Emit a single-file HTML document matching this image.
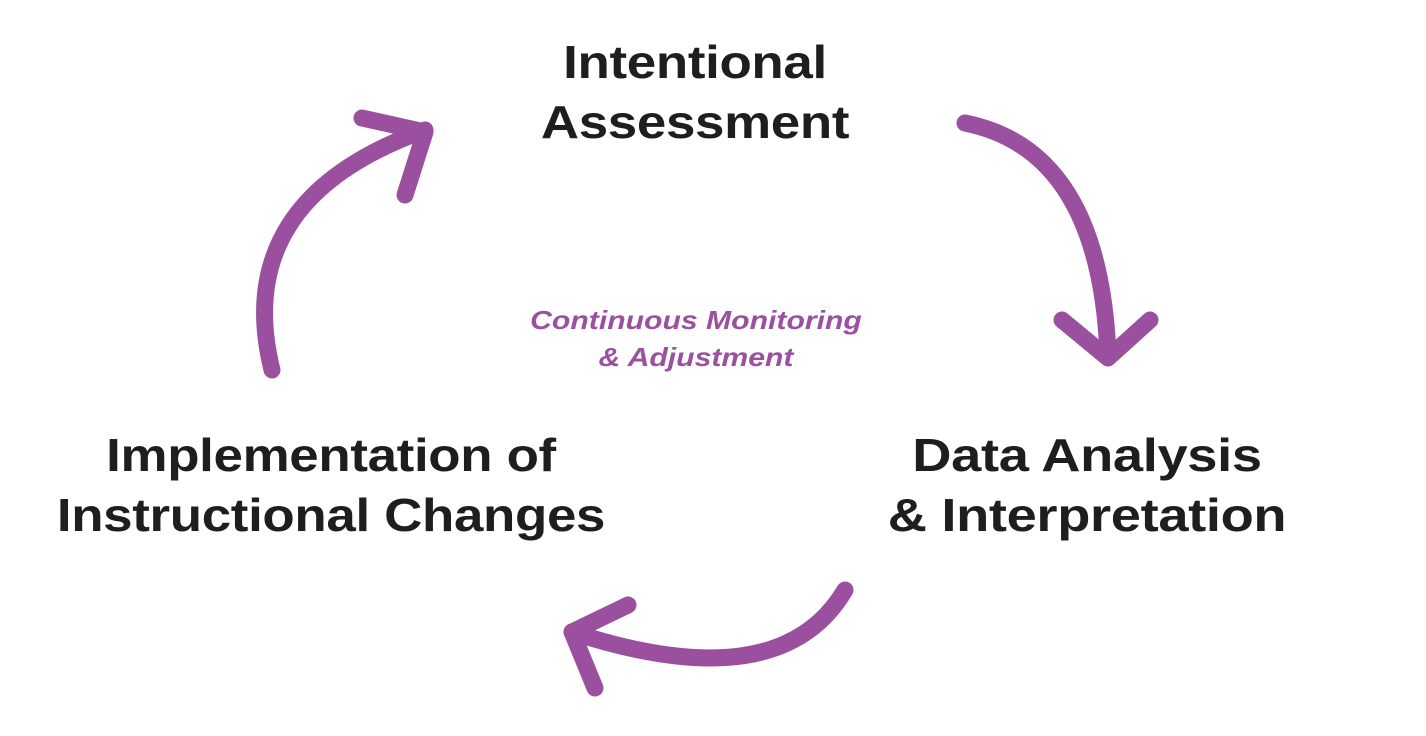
<!DOCTYPE html>
<html><head><meta charset="utf-8"><style>
html,body{margin:0;padding:0;background:#fff;}
body{width:1426px;height:736px;position:relative;overflow:hidden;font-family:"Liberation Sans",sans-serif;}
.t{position:absolute;font-weight:bold;color:#1e1e1e;font-size:46px;line-height:60px;text-align:center;white-space:nowrap;letter-spacing:-0.3px;transform:scaleX(1.15);transform-origin:center;}
.c{position:absolute;font-weight:bold;font-style:italic;color:#9b50a0;font-size:26px;line-height:37px;text-align:center;white-space:nowrap;transform:scaleX(1.16);transform-origin:center;}
svg{position:absolute;left:0;top:0;}
</style></head><body>
<svg width="1426" height="736" viewBox="0 0 1426 736" fill="none" stroke="#9a509e" stroke-width="17" stroke-linecap="round" stroke-linejoin="round">
<path d="M965,123 Q1100,150 1108,355"/>
<path d="M1062,320 L1108,358 L1150,320"/>
<path d="M845,590 Q780,700 572,632"/>
<path d="M628,605 L572,632 L595,688"/>
<path d="M272,370 Q230,200 425,130"/>
<path d="M362,118 L425,132 L405,195"/>
</svg>
<div class="t" style="left:495px;width:400px;top:32px;">Intentional<br>Assessment</div>
<div class="t" style="left:870px;width:434px;top:425px;transform:scaleX(1.18);">Data Analysis<br>&amp; Interpretation</div>
<div class="t" style="left:31px;width:600px;top:425px;">Implementation of<br>Instructional Changes</div>
<div class="c" style="left:496px;width:400px;top:302px;">Continuous Monitoring<br>&amp; Adjustment</div>
</body></html>
